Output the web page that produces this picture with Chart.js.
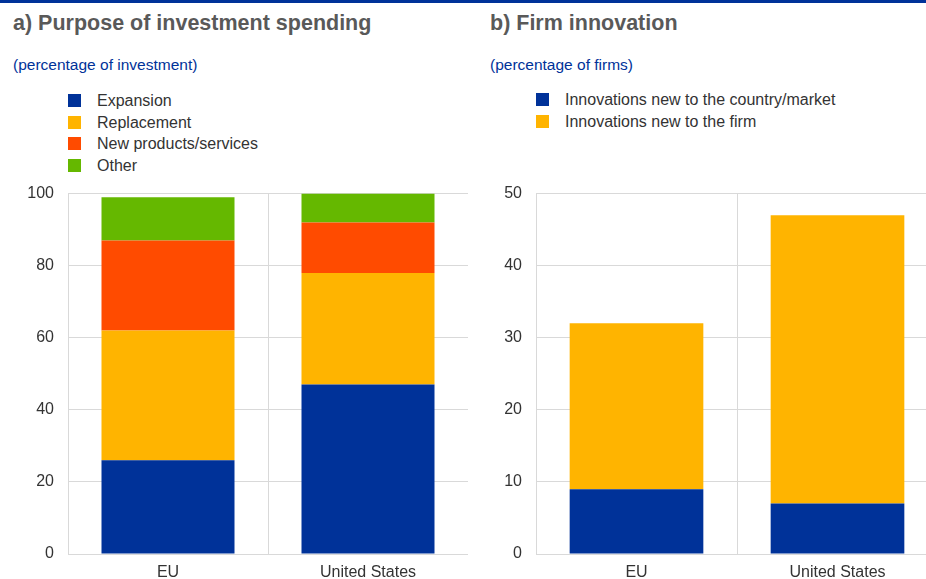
<!DOCTYPE html>
<html>
<head>
<meta charset="utf-8">
<script src="https://cdn.jsdelivr.net/npm/chart.js@4/dist/chart.umd.min.js"></script>
<style>
  html, body { margin: 0; padding: 0; width: 926px; height: 579px; overflow: hidden; background: #fff; }
  body { position: relative; font-family: "Liberation Sans", Arial, sans-serif; }
  .topline { position: absolute; left: 0; top: 0; width: 926px; height: 3px; background: #003299; }
  .title { position: absolute; font-weight: bold; font-size: 21.5px; color: #595959; white-space: nowrap; }
  .sub { position: absolute; font-size: 15.5px; color: #003299; white-space: nowrap; }
  .legend { position: absolute; font-size: 16px; color: #333; }
  .legend div { position: relative; height: 21.5px; line-height: 21.5px; padding-left: 29px; white-space: nowrap; }
  .legend span { position: absolute; left: 0; top: 4px; width: 13px; height: 13px; }
  .box { position: absolute; }
</style>
</head>
<body>
<div class="topline"></div>
<div class="title" style="left:13px; top:11px;">a) Purpose of investment spending</div>
<div class="sub" style="left:13px; top:56px;">(percentage of investment)</div>
<div class="legend" id="legendA" style="left:68px; top:90px;"></div>
<div class="title" style="left:490px; top:11px;">b) Firm innovation</div>
<div class="sub" style="left:490px; top:56px;">(percentage of firms)</div>
<div class="legend" id="legendB" style="left:536px; top:89px;"></div>

<div class="box" style="left:0px; top:170px; width:468px; height:409px;"><canvas id="chartA"></canvas></div>
<div class="box" style="left:468px; top:170px; width:470px; height:409px;"><canvas id="chartB"></canvas></div>

<script>
// 공통 데이터
const categories = ["EU", "United States"];

// a) 투자 목적
const purposeLabels = ["Expansion", "Replacement", "New products/services", "Other"];
const expansion = [26, 47];
const replacement = [36, 31];
const newProducts = [25, 14];
const other = [12, 8];
const purposeTicks = [0, 20, 40, 60, 80, 100];

// b) 기업 혁신
const innovationLabels = ["Innovations new to the country/market", "Innovations new to the firm"];
const newToMarket = [9, 7];
const newToFirm = [23, 40];
const innovationTicks = [0, 10, 20, 30, 40, 50];

const colors = ["#003299", "#FFB400", "#FF4B00", "#65B800"];

// HTML 범례 만들기
function buildLegend(id, labels) {
  const el = document.getElementById(id);
  labels.forEach((label, i) => {
    const row = document.createElement("div");
    row.innerHTML = `<span style="background:${colors[i]}"></span>${label}`;
    el.appendChild(row);
  });
}
buildLegend("legendA", purposeLabels);
buildLegend("legendB", innovationLabels);

const font = { family: "'Liberation Sans', Arial, sans-serif", size: 16 };

function makeOptions(max, step) {
  return {
    responsive: true,
    maintainAspectRatio: false,
    animation: false,
    layout: { padding: { top: 3, right: 0, bottom: 0, left: 0 } },
    plugins: { legend: { display: false }, tooltip: { enabled: false } },
    scales: {
      x: {
        stacked: true,
        grid: { color: "#d9d9d9", lineWidth: 1, offset: true, drawTicks: false },
        border: { color: "#d9d9d9" },
        ticks: { color: "#333", font: font, padding: 9 },
        afterFit: (scale) => { scale.height = 25; }
      },
      y: {
        stacked: true,
        min: 0,
        max: max,
        grid: { color: "#d9d9d9", lineWidth: 1, drawTicks: false },
        border: { color: "#d9d9d9" },
        ticks: { color: "#333", font: font, padding: 14, stepSize: step },
        afterFit: (scale) => { scale.width = 68; }
      }
    }
  };
}

new Chart(document.getElementById("chartA").getContext("2d"), {
  type: "bar",
  data: {
    labels: categories,
    datasets: [expansion, replacement, newProducts, other].map((d, i) => ({
      label: purposeLabels[i],
      data: d,
      backgroundColor: colors[i],
      borderWidth: 0,
      barPercentage: 1,
      categoryPercentage: 0.665
    }))
  },
  options: makeOptions(purposeTicks[purposeTicks.length - 1], purposeTicks[1] - purposeTicks[0])
});

new Chart(document.getElementById("chartB").getContext("2d"), {
  type: "bar",
  data: {
    labels: categories,
    datasets: [newToMarket, newToFirm].map((d, i) => ({
      label: innovationLabels[i],
      data: d,
      backgroundColor: colors[i],
      borderWidth: 0,
      barPercentage: 1,
      categoryPercentage: 0.665
    }))
  },
  options: makeOptions(innovationTicks[innovationTicks.length - 1], innovationTicks[1] - innovationTicks[0])
});
</script>
</body>
</html>
